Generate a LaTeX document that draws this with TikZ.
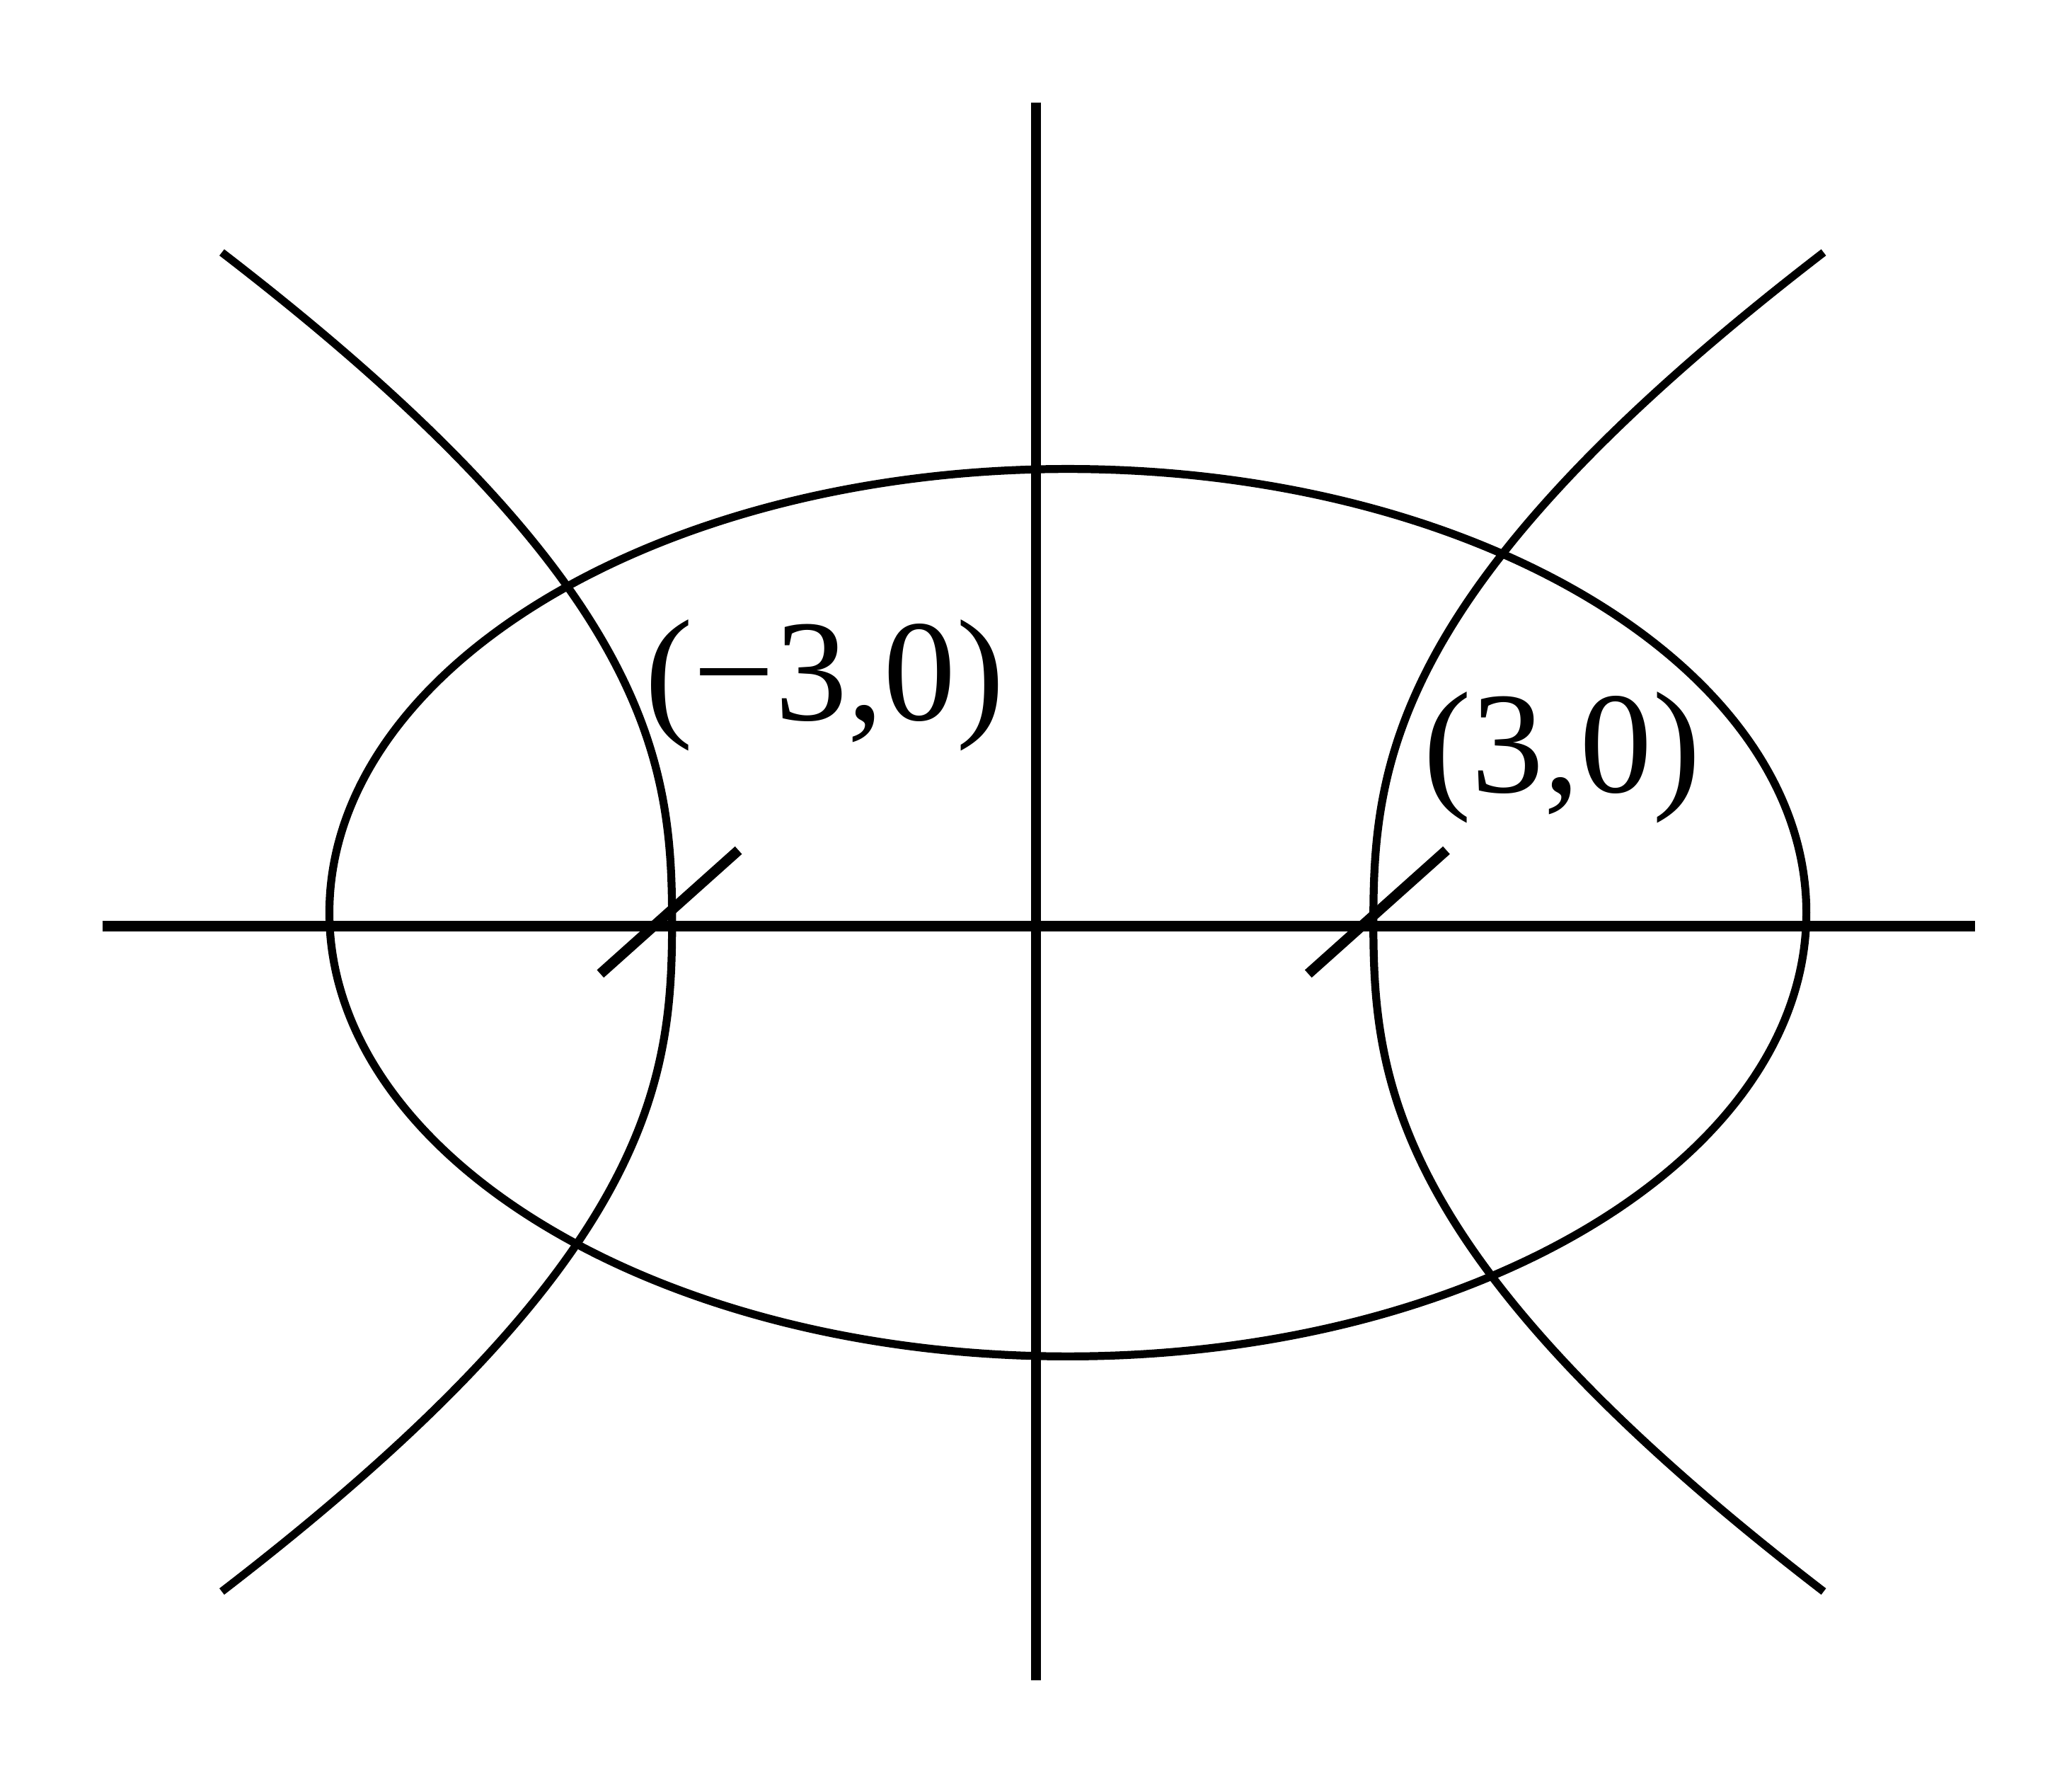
\documentclass[tikz,border=0pt]{standalone}
\usepackage{fontspec}
\setmainfont{Liberation Serif}

\begin{document}
\begin{tikzpicture}[x=0.01cm,y=-0.01cm,
  axis/.style={line width=2.2pt},
  conic/.style={line width=1.7pt},
  ptlabel/.style={inner sep=0pt,font=\fontsize{31pt}{37pt}\selectfont}]
\useasboundingbox (0,0) rectangle (1560,1347);
% axes
\coordinate (xleft) at (77,697);
\coordinate (xright) at (1487,697);
\coordinate (ytop) at (780,77);
\coordinate (ybot) at (780,1265);
\draw[axis] (xleft) -- (xright);
\draw[axis] (ytop) -- (ybot);
% ellipse
\draw[conic] (804,687) ellipse [x radius=556, y radius=334];
% hyperbola, both branches
\draw[conic] (167,190) .. controls (492,440) and (506,574) .. (506,694)
  .. controls (506,814) and (492,948) .. (167,1198);
\draw[conic] (1373,190) .. controls (1048,440) and (1034,574) .. (1034,694)
  .. controls (1034,814) and (1048,948) .. (1373,1198);
% foci marks
\coordinate (fl1) at (452,733);
\coordinate (fl2) at (556,640);
\coordinate (fr1) at (985,733);
\coordinate (fr2) at (1089,640);
\draw[axis] (fl1) -- (fl2);
\draw[axis] (fr1) -- (fr2);
\node[ptlabel] (focusL) at (621,516) {(−3,0)};
\node[ptlabel] (focusR) at (1176,570) {(3,0)};
\end{tikzpicture}
\end{document}
